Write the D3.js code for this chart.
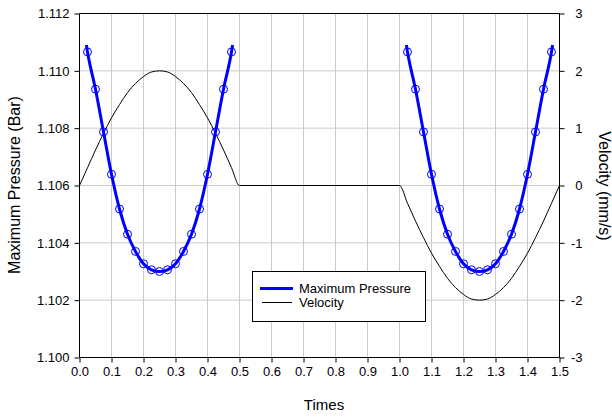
<!DOCTYPE html>
<html>
<head>
<meta charset="utf-8">
<script src="https://cdn.jsdelivr.net/npm/d3@7/dist/d3.min.js"></script>
<style>
  html, body { margin: 0; padding: 0; background: #fff; }
  svg { display: block; font-family: "Liberation Sans", Arial, sans-serif; }
</style>
</head>
<body>
<svg id="chart" width="612" height="417"></svg>
<script>
// Marker times for the two pressure cycles
const markerTimes1 = [0.025, 0.05, 0.075, 0.1, 0.125, 0.15, 0.175, 0.2, 0.225, 0.25,
                      0.275, 0.3, 0.325, 0.35, 0.375, 0.4, 0.425, 0.45, 0.475];
const markerTimes2 = [1.025, 1.05, 1.075, 1.1, 1.125, 1.15, 1.175, 1.2, 1.225, 1.25,
                      1.275, 1.3, 1.325, 1.35, 1.375, 1.4, 1.425, 1.45, 1.475];
// Maximum pressure (Bar) at the marker times
const pressure1 = [1.11066, 1.10936, 1.10787, 1.10639, 1.10518, 1.10430, 1.10370, 1.10327, 1.10306, 1.10300,
                   1.10306, 1.10327, 1.10370, 1.10430, 1.10518, 1.10639, 1.10787, 1.10936, 1.11066];
const pressure2 = [1.11066, 1.10936, 1.10787, 1.10639, 1.10518, 1.10430, 1.10370, 1.10327, 1.10306, 1.10300,
                   1.10306, 1.10327, 1.10370, 1.10430, 1.10518, 1.10639, 1.10787, 1.10936, 1.11066];
// Ends of the continuous pressure traces
const lineEndTimes1 = [0.0215, 0.4785];
const lineEndTimes2 = [1.0215, 1.4785];
const lineEndPressure = [1.1109, 1.1109];

// Velocity (mm/s)
const velocityTimes = [0, 0.025, 0.05, 0.075, 0.1, 0.125, 0.15, 0.175, 0.2, 0.225, 0.25,
                       0.275, 0.3, 0.325, 0.35, 0.375, 0.4, 0.425, 0.45, 0.475, 0.5,
                       1.0, 1.025, 1.05, 1.075, 1.1, 1.125, 1.15, 1.175, 1.2, 1.225, 1.25,
                       1.275, 1.3, 1.325, 1.35, 1.375, 1.4, 1.425, 1.45, 1.475, 1.5];
const velocity = [0, 0.31, 0.62, 0.91, 1.18, 1.41, 1.62, 1.78, 1.90, 1.98, 2.00,
                  1.98, 1.90, 1.78, 1.62, 1.41, 1.18, 0.91, 0.62, 0.31, 0,
                  0, -0.31, -0.62, -0.91, -1.18, -1.41, -1.62, -1.78, -1.90, -1.98, -2.00,
                  -1.98, -1.90, -1.78, -1.62, -1.41, -1.18, -0.91, -0.62, -0.31, 0];

// Tick values
const xTicks = [0, 0.1, 0.2, 0.3, 0.4, 0.5, 0.6, 0.7, 0.8, 0.9, 1.0, 1.1, 1.2, 1.3, 1.4, 1.5];
const pTicks = [1.100, 1.102, 1.104, 1.106, 1.108, 1.110, 1.112];
const vTicks = [-3, -2, -1, 0, 1, 2, 3];

const svg = d3.select("#chart");
const plotL = 79.5, plotR = 559.5, plotT = 13.5, plotB = 357.5;

const x = d3.scaleLinear().domain([0, 1.5]).range([plotL, plotR]);
const yP = d3.scaleLinear().domain([1.100, 1.112]).range([plotB, plotT]);
const yV = d3.scaleLinear().domain([-3, 3]).range([plotB, plotT]);

// Grid
const grid = svg.append("g").attr("stroke", "#cccccc").attr("stroke-width", 1);
xTicks.slice(1, -1).forEach(t => {
  grid.append("line").attr("x1", x(t)).attr("x2", x(t)).attr("y1", plotT).attr("y2", plotB);
});
pTicks.slice(1, -1).forEach(t => {
  grid.append("line").attr("x1", plotL).attr("x2", plotR).attr("y1", yP(t)).attr("y2", yP(t));
});

// Axes
const fmt3 = d3.format(".3f"), fmt1 = d3.format(".1f");
const xAxis = d3.axisBottom(x).tickValues(xTicks).tickFormat(fmt1).tickSize(5).tickPadding(4);
const leftAxis = d3.axisLeft(yP).tickValues(pTicks).tickFormat(fmt3).tickSize(5).tickPadding(5);
const rightAxis = d3.axisRight(yV).tickValues(vTicks).tickFormat(d => String(d)).tickSize(5).tickPadding(5);

function styleAxis(g) {
  g.select(".domain").attr("stroke", "#000");
  g.selectAll(".tick line").attr("stroke", "#000");
  g.selectAll("text").attr("fill", "#000").attr("font-size", 13)
    .attr("font-family", "'Liberation Sans', Arial, sans-serif");
}
svg.append("g").attr("transform", `translate(0,${plotB})`).call(xAxis).call(styleAxis)
  .call(g => g.select(".domain").attr("d", `M${plotL},0H${plotR}`));
svg.append("g").attr("transform", `translate(${plotL},0)`).call(leftAxis).call(styleAxis)
  .call(g => g.select(".domain").attr("d", `M0,${plotT}V${plotB}`));
const ra = svg.append("g").attr("transform", `translate(${plotR},0)`).call(rightAxis).call(styleAxis)
  .call(g => g.select(".domain").attr("d", `M0,${plotT}V${plotB}`));
ra.selectAll("text").attr("text-anchor", "end").attr("x", 23);
// top frame line
svg.append("line").attr("x1", plotL).attr("x2", plotR).attr("y1", plotT).attr("y2", plotT)
  .attr("stroke", "#000");

// Velocity trace
const vData = velocityTimes.map((t, i) => [t, velocity[i]]);
svg.append("path")
  .datum(vData)
  .attr("fill", "none").attr("stroke", "#000").attr("stroke-width", 1)
  .attr("d", d3.line().x(d => x(d[0])).y(d => yV(d[1])).curve(d3.curveMonotoneX));

// Pressure traces
function pressureCycle(times, values, ends) {
  const pts = times.map((t, i) => [t, values[i]]);
  const linePts = [[ends[0], lineEndPressure[0]], ...pts, [ends[1], lineEndPressure[1]]];
  svg.append("path")
    .datum(linePts)
    .attr("fill", "none").attr("stroke", "#0000ff").attr("stroke-width", 3)
    .attr("d", d3.line().x(d => x(d[0])).y(d => yP(d[1])).curve(d3.curveMonotoneX));
  svg.append("g").selectAll("circle").data(pts).join("circle")
    .attr("cx", d => x(d[0])).attr("cy", d => yP(d[1])).attr("r", 4)
    .attr("fill", "none").attr("stroke", "#0000ff").attr("stroke-width", 1);
}
pressureCycle(markerTimes1, pressure1, lineEndTimes1);
pressureCycle(markerTimes2, pressure2, lineEndTimes2);

// Axis titles
svg.append("text").attr("x", 324).attr("y", 410).attr("text-anchor", "middle")
  .attr("font-size", 15).text("Times");
svg.append("text").attr("transform", "translate(19.5,185) rotate(-90)").attr("text-anchor", "middle")
  .attr("font-size", 16).text("Maximum Pressure (Bar)");
svg.append("text").attr("transform", "translate(599,186) rotate(90)").attr("text-anchor", "middle")
  .attr("font-size", 16).text("Velocity (mm/s)");

// Legend
const lg = svg.append("g");
lg.append("rect").attr("x", 252.5).attr("y", 271.5).attr("width", 173).attr("height", 50)
  .attr("fill", "#fff").attr("stroke", "#000").attr("stroke-width", 1);
lg.append("line").attr("x1", 260).attr("x2", 293).attr("y1", 288.5).attr("y2", 288.5)
  .attr("stroke", "#0000ff").attr("stroke-width", 3);
lg.append("line").attr("x1", 262).attr("x2", 292).attr("y1", 302.5).attr("y2", 302.5)
  .attr("stroke", "#000").attr("stroke-width", 1);
lg.append("text").attr("x", 299).attr("y", 293).attr("font-size", 13).text("Maximum Pressure");
lg.append("text").attr("x", 299).attr("y", 307).attr("font-size", 13).text("Velocity");
</script>
</body>
</html>
